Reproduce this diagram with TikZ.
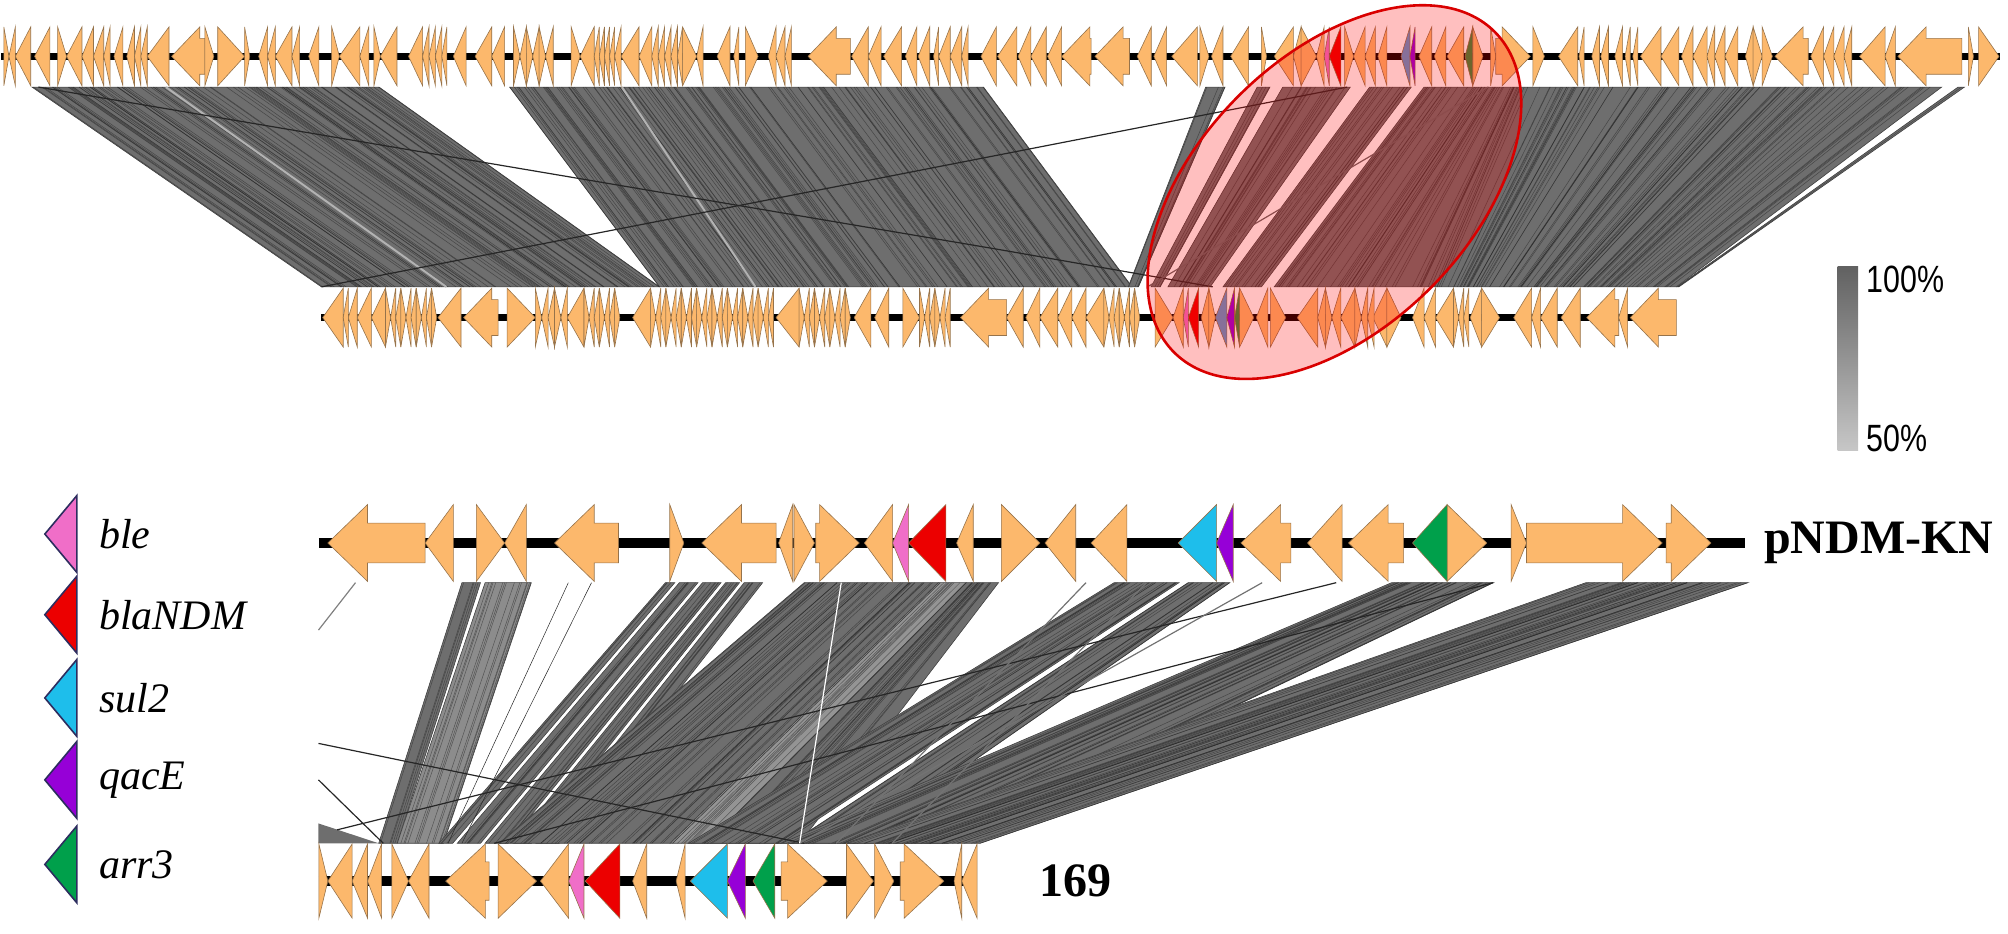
\documentclass[tikz,border=0pt]{standalone}
\usepackage{fontspec}
\setmainfont{Liberation Serif}
\newfontfamily\barfont[FakeStretch=0.8]{Liberation Sans}

\definecolor{geneorange}{RGB}{252,184,108}
\definecolor{geneedge}{RGB}{150,115,75}
\definecolor{blecol}{RGB}{240,110,200}
\definecolor{ndmcol}{RGB}{236,0,0}
\definecolor{sulcol}{RGB}{30,190,235}
\definecolor{sultop}{RGB}{95,150,205}
\definecolor{qaccol}{RGB}{150,0,215}
\definecolor{arrcol}{RGB}{0,160,75}
\definecolor{arrtop}{RGB}{60,135,60}
\definecolor{legedge}{RGB}{45,45,95}

% one gene arrow: start, end, direction (1 / -1), fill
\newcommand{\settrack}[4]{\def\gy{#1}\def\gh{#2}\def\gb{#3}\def\ghd{#4}}
\newcommand{\gene}[4]{%
  \pgfmathsetmacro{\gtip}{#3>0 ? #2 : #1}%
  \pgfmathsetmacro{\gtail}{#3>0 ? #1 : #2}%
  \pgfmathsetmacro{\gneck}{\gtip-(#3)*min((#2)-(#1),\ghd)}%
  \filldraw[gene, fill=#4] (\gtail,\gy-\gb) -- (\gneck,\gy-\gb) -- (\gneck,\gy-\gh)
    -- (\gtip,\gy) -- (\gneck,\gy+\gh) -- (\gneck,\gy+\gb) -- (\gtail,\gy+\gb) -- cycle;}
% a run of small genes
\newcommand{\generun}[3]{%
  \foreach \ga [count=\gi] in {#1,#2,...,#3} {%
    \pgfmathsetmacro{\gdir}{mod(\gi,3)==1 ? 1 : -1}%
    \gene{\ga}{\ga+#2-#1}{\gdir}{geneorange}}}
% one blast hit between two tracks
\newcommand{\sethits}[2]{\def\ytop{#1}\def\ybot{#2}}
\newcommand{\hit}[5][black!57]{%
  \filldraw[hitbox, fill=#1] (#2,\ytop) -- (#3,\ytop) -- (#5,\ybot) -- (#4,\ybot) -- cycle;
  \pgfmathtruncatemacro{\hn}{max(1,((#3)-(#2)+(#5)-(#4))/5)}%
  \foreach \hk in {1,...,\hn} {%
    \pgfmathsetmacro{\hu}{rnd}%
    \draw[hitline] ({#2+\hu*(#3-#2)},\ytop) -- ({#4+\hu*(#5-#4)},\ybot);}}

\tikzset{
  gene/.style={draw=geneedge, line width=0.3pt},
  backbone/.style={line width=#1, black},
  hitbox/.style={draw=black!75, line width=0.3pt},
  hitline/.style={black!85, line width=0.25pt, opacity=0.55},
  hitlight/.style={black!30, line width=1pt},
  xline/.style={black!85, line width=0.6pt},
  legtri/.style={draw=legedge, line width=0.8pt},
  leglabel/.style={anchor=west, font=\fontsize{21}{25}\selectfont\itshape},
  plasmid/.style={anchor=west, font=\fontsize{24}{28}\selectfont\bfseries},
  barlabel/.style={anchor=west, font=\fontsize{19}{22}\selectfont\barfont}
}

\begin{document}
\begin{tikzpicture}[x=0.6403pt, y=-0.6403pt]
\useasboundingbox (0,0) rectangle (1568,729);
\pgfmathsetseed{7}

% hits between the two long plasmids
\sethits{68}{224}
\hit{25}{296}{251}{515}
\hit{398}{768}{515}{884}
\hit{941.5}{956.6}{881}{889}
\hit{981.7}{991.7}{898.8}{906}
\hit{1001.7}{1054.4}{912}{945}
\hit{1069.5}{1102}{955}{985}
\hit{1112}{1162.3}{995}{1060}
\hit{1162.3}{1187.4}{1060}{1122.2}
\hit{1187.4}{1516.2}{1122.2}{1309}
\hit{1529}{1534}{1309.5}{1311}
\draw[hitlight] (129.5,68) -- (348.6,224);
\draw[hitlight] (485.6,68) -- (590,224);
\draw[xline] (30,68) -- (781,195) -- (947,224);
\draw[xline] (251,224) -- (1052,68);
\draw[xline, black!60] (896,224) -- (1162,68);

% hits between pNDM-KN and 169
\sethits{455}{658.5}
\hit{360.7}{375.2}{295.7}{310.2}
\hit[black!45]{378.8}{414.9}{310.2}{346.3}
\hit{519.6}{526.9}{342.7}{353.5}
\hit{530.5}{545}{357.1}{375.2}
\hit{548.6}{563}{378.8}{396.8}
\hit{566.6}{577.5}{400.5}{414.9}
\hit{581.1}{595.5}{418.5}{436.6}
\hit{628}{732.8}{389.6}{523.3}
\hit[black!42]{732.8}{754.4}{523.3}{552.2}
\hit{754.4}{779.7}{552.2}{624.4}
\hit{870}{920.6}{537.7}{610}
\hit{927.8}{960.3}{617.2}{667.7}
\hit{1086.7}{1166.2}{610}{740}
\hit{1238.4}{1364.9}{660.5}{765.3}
\fill[black!57] (248.7,643) -- (248.7,658.5) -- (295.7,658.5) -- cycle;
\draw[hitline, opacity=1] (443.8,455) -- (349.9,658.5);
\draw[hitline, opacity=1] (461.9,455) -- (360.7,658.5);
\draw[xline, black!50] (277.6,455) -- (248.7,492);
\draw[xline] (248.7,580.5) -- (628,658.5);
\draw[xline] (248.7,609) -- (299.3,658.5);
\draw[xline] (263.2,648) -- (1043.4,455);
\draw[xline] (386,658.5) -- (1166,455);
\draw[xline, black!55] (624.4,658.5) -- (985.6,455);
\draw[xline, black!55] (653,658.5) -- (848,455);
\draw[xline, black!55] (696.6,658.5) -- (895.3,455);
\draw[white, line width=0.6pt] (656.9,455) -- (624.4,658.5);

% long plasmid, top
\settrack{44}{23}{14}{22}
\draw[backbone=3.5pt] (1,44) -- (1562,44);
\foreach \ga/\gz/\gw in {3/7/1, 7/12/-1, 12/24/-1, 27/39/-1, 45/52/1, 52/64/-1,
  64/73/-1, 73/81/-1, 81/86/-1, 89/96/-1, 99/105/-1, 105/110/-1, 110/115/-1,
  115/132/-1, 134/160/-1, 160/167/1, 170/191/1, 191/195/1, 202/209/-1, 209/215/-1,
  215/228/-1, 228/234/-1, 241/249/-1, 259/265/1, 265/281/-1, 281/288/-1, 292/297/1,
  297/310/-1, 319/330/-1, 330/335/-1, 335/340/-1, 340/345/-1, 345/349/-1, 354/364/-1,
  371/384/-1, 384/394/-1, 401/406/1, 406/411/-1, 411/416/1, 416/421/-1, 421/426/1,
  426/432/-1, 446/453/1, 453/464/-1, 464/468/-1, 468/472/-1, 472/476/-1, 476/480/-1,
  480/485/-1, 485/499/-1, 499/509/-1, 509/514/-1, 514/519/-1, 519/524/-1, 524/529/-1,
  529/533/-1, 533/544/1, 544/549/-1, 560/570/-1, 573/577/-1, 582/592/1, 600/606/-1,
  606/613/-1, 613/618/-1, 631/664/-1, 665/678/-1, 678/688/-1, 690/704/-1, 707/716/-1,
  717/726/-1, 729/733/-1, 733/742/-1, 742/751/-1, 751/756/-1, 766/778/-1, 779/794/-1,
  795/805/-1, 805/817/-1, 818/829/-1, 829/852/-1, 855/882/-1, 888/899/-1, 901/911/-1,
  915/935/-1, 937/944/1, 946/955/-1, 961/975/-1, 985/989/1, 995/1010/-1, 1010/1016/-1,
  1016/1028/1, 1028/1034/-1, 1050/1057/1, 1057/1066/-1, 1066/1074/-1, 1076/1083/-1,
  1108/1118/-1, 1120/1129/-1, 1130/1143/-1, 1150/1158/1, 1164/1168/1, 1168/1195/1,
  1197/1206/1, 1217/1232/-1, 1233/1237/-1, 1243/1249/-1, 1250/1256/-1, 1261/1267/-1,
  1269/1273/-1, 1275/1279/-1, 1281/1297/-1, 1297/1311/-1, 1313/1322/-1, 1322/1333/-1,
  1333/1339/-1, 1339/1347/-1, 1347/1357/-1, 1363/1369/-1, 1369/1376/1, 1376/1384/1,
  1386/1412/-1, 1414/1424/-1, 1424/1432/-1, 1432/1440/-1, 1440/1446/-1, 1452/1472/-1,
  1472/1480/-1, 1482/1532/-1, 1537/1541/1, 1545/1561/1}
  {\gene{\ga}{\gz}{\gw}{geneorange}}
\gene{1034}{1038}{-1}{blecol}
\gene{1038}{1047}{-1}{ndmcol}
\gene{1094}{1101}{-1}{sultop}
\gene{1101}{1105}{-1}{qaccol}
\gene{1144}{1150}{-1}{arrtop}

% long plasmid, second
\settrack{248}{23}{14}{22}
\draw[backbone=3.2pt] (251,248) -- (1309,248);
\foreach \ga/\gz/\gw in {252/268/-1, 268/272/-1, 272/279/-1, 279/290/-1, 290/301/-1,
  342/360/-1, 362/389/-1, 396/418/1, 443/456/-1, 494/508/-1, 606/624/-1, 667/680/-1,
  683/694/-1, 705/718/1, 750/786/-1, 786/799/-1, 801/812/-1, 812/826/-1, 826/837/-1,
  837/848/-1, 848/862/-1, 902/916/1, 916/924/-1, 938/944/-1, 944/949/1, 968/979/1,
  981/990/-1, 992/1004/1, 1013/1029/-1, 1029/1035/-1, 1035/1040/1, 1040/1047/-1,
  1047/1058/-1, 1072/1083/-1, 1083/1094/1, 1103/1112/-1, 1112/1121/-1, 1121/1135/-1,
  1148/1157/-1, 1157/1171/1, 1182/1196/-1, 1196/1203/-1, 1203/1216/-1, 1219/1234/-1,
  1239/1264/-1, 1264/1271/-1, 1273/1309/-1}
  {\gene{\ga}{\gz}{\gw}{geneorange}}
\generun{301}{305}{337}
\generun{418}{423}{438}
\generun{456}{460}{481}
\generun{508}{512}{602}
\generun{624}{628}{661}
\generun{718}{722}{741}
\generun{862}{866}{889}
\generun{1058}{1063}{1068}
\generun{1135}{1139}{1144}
\gene{924}{928}{-1}{blecol}
\gene{928}{936}{-1}{ndmcol}
\gene{949}{958}{-1}{sultop}
\gene{958}{964}{-1}{qaccol}
\gene{964}{968}{-1}{arrtop}

% pNDM-KN
\settrack{424}{30}{15.5}{31}
\draw[backbone=5pt] (249,424) -- (1363,424);
\foreach \ga/\gz/\gw in {256/332/-1, 332/354/-1, 372/394/1, 394/411/-1, 433/483/-1,
  523/534/1, 548/606/-1, 608/619/-1, 620/636/1, 637/671/1, 675/697/-1, 747/760/-1,
  782/812/1, 816/840/-1, 852/880/-1, 969/1008/-1, 1021/1048/-1, 1053/1096/-1,
  1130/1161/1, 1180/1192/1, 1192/1298/1, 1301/1336/1}
  {\gene{\ga}{\gz}{\gw}{geneorange}}
\gene{697}{709.5}{-1}{blecol}
\gene{709.5}{738.6}{-1}{ndmcol}
\gene{920}{950}{-1}{sulcol}
\gene{950}{963}{-1}{qaccol}
\gene{1103}{1130}{-1}{arrcol}

% 169
\settrack{688}{29}{15}{31}
\draw[backbone=5pt] (249,688) -- (763,688);
\foreach \ga/\gz/\gw in {249/256/1, 256/275/-1, 275/287/-1, 287/298/-1, 306/319/1,
  319/335/-1, 348/382/-1, 389/419/1, 422/444/-1, 494/505/-1, 528/535/-1, 610/646/1,
  661/682/1, 683/698/1, 703/737/1, 745/751/-1, 751/763/-1}
  {\gene{\ga}{\gz}{\gw}{geneorange}}
\gene{444}{456}{-1}{blecol}
\gene{457}{484}{-1}{ndmcol}
\gene{539}{568}{-1}{sulcol}
\gene{568}{582}{-1}{qaccol}
\gene{588}{605}{-1}{arrcol}

% highlighted region
\filldraw[fill=red, fill opacity=0.25, draw=red!85!black, line width=1.3pt,
  rotate around={45:(1042,150)}] (1042,150) ellipse [x radius=177, y radius=106];

% legend
\foreach \cy/\lc/\lt in {417/blecol/ble, 480/ndmcol/blaNDM, 545/sulcol/sul2,
  609/qaccol/qacE, 675/arrcol/arr3} {
  \filldraw[legtri, fill=\lc] (35,\cy) -- (60,\cy-30) -- (60,\cy+30) -- cycle;
  \node[leglabel] (leg-\lt) at (72,\cy) {\lt};
}

\node[plasmid] (kn) at (1372,424) {pNDM-KN};
\node[plasmid] (p169) at (806,688) {169};

% identity scale
\shade[top color=black!62, bottom color=black!22] (1435,208) rectangle (1451,352);
\node[barlabel] (hi) at (1452,218) {100\%};
\node[barlabel] (lo) at (1452,342) {50\%};
\end{tikzpicture}
\end{document}
